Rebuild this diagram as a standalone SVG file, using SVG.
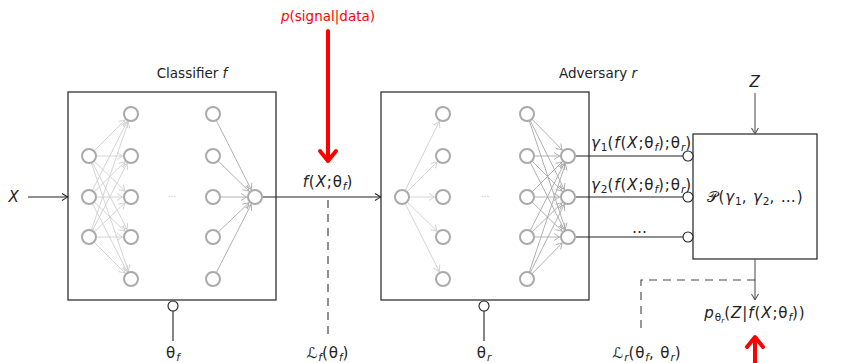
<svg xmlns="http://www.w3.org/2000/svg" width="864" height="363" viewBox="0 0 864 363">
<defs>
<style>
text{font-family:"DejaVu Sans","Liberation Sans",sans-serif;font-size:13.5px;fill:#222}
.m{font-size:15px;letter-spacing:0.9px}
.it{font-style:italic}
.sub{font-size:10.5px;letter-spacing:0}
.box{fill:#fff;stroke:#222;stroke-width:1.2}
.node{fill:#fff;stroke:#aaa;stroke-width:2}
.el{stroke:#cfcfcf;stroke-width:0.9;fill:none;marker-end:url(#mL)}
.em{stroke:#a8a8a8;stroke-width:0.9;fill:none;marker-end:url(#mM)}
.wire{stroke:#222;stroke-width:1.1;fill:none}
.gw{stroke:#555;stroke-width:1.1;fill:none}
.pin{fill:#fff;stroke:#222;stroke-width:1.1}
.dash{stroke:#333;stroke-width:1.1;stroke-dasharray:8,6;fill:none}
.red{stroke:#f00;stroke-width:4;fill:none;stroke-linecap:round;stroke-linejoin:round}
</style>
<marker id="mL" viewBox="-16 -5 16 10" refX="0" refY="0" markerWidth="16" markerHeight="10" markerUnits="userSpaceOnUse" orient="auto">
<path d="M-14,-3.5 Q-10,-1 -8.5,0 Q-10,1 -14,3.5" fill="none" stroke="#cfcfcf" stroke-width="0.9"/>
</marker>
<marker id="mM" viewBox="-16 -5 16 10" refX="0" refY="0" markerWidth="16" markerHeight="10" markerUnits="userSpaceOnUse" orient="auto">
<path d="M-14,-3.5 Q-10,-1 -8.5,0 Q-10,1 -14,3.5" fill="none" stroke="#a8a8a8" stroke-width="0.9"/>
</marker>
<marker id="mK" viewBox="-8 -5 8 10" refX="0" refY="0" markerWidth="8" markerHeight="10" markerUnits="userSpaceOnUse" orient="auto">
<path d="M-6,-3.5 Q-2,-1 0,0 Q-2,1 -6,3.5" fill="none" stroke="#222" stroke-width="1.1"/>
</marker>
<marker id="mG" viewBox="-8 -5 8 10" refX="0" refY="0" markerWidth="8" markerHeight="10" markerUnits="userSpaceOnUse" orient="auto">
<path d="M-6,-3.5 Q-2,-1 0,0 Q-2,1 -6,3.5" fill="none" stroke="#555" stroke-width="1.1"/>
</marker>
</defs>

<!-- Classifier box -->
<g id="classifier">
<rect class="box" x="68" y="92" width="208" height="208"/>
<text x="192" y="78" text-anchor="middle">Classifier <tspan class="it">f</tspan></text>
<g id="classifier-edges">
<line class="el" x1="89" y1="156" x2="131" y2="114"/><line class="el" x1="89" y1="156" x2="131" y2="156"/><line class="el" x1="89" y1="156" x2="131" y2="197"/><line class="el" x1="89" y1="156" x2="131" y2="237"/><line class="el" x1="89" y1="156" x2="131" y2="279"/>
<line class="el" x1="89" y1="197" x2="131" y2="114"/><line class="el" x1="89" y1="197" x2="131" y2="156"/><line class="el" x1="89" y1="197" x2="131" y2="197"/><line class="el" x1="89" y1="197" x2="131" y2="237"/><line class="el" x1="89" y1="197" x2="131" y2="279"/>
<line class="el" x1="89" y1="237" x2="131" y2="114"/><line class="el" x1="89" y1="237" x2="131" y2="156"/><line class="el" x1="89" y1="237" x2="131" y2="197"/><line class="el" x1="89" y1="237" x2="131" y2="237"/><line class="el" x1="89" y1="237" x2="131" y2="279"/>
<line class="em" x1="213" y1="114" x2="255" y2="197"/><line class="em" x1="213" y1="156" x2="255" y2="197"/><line class="em" x1="213" y1="197" x2="255" y2="197"/><line class="em" x1="213" y1="237" x2="255" y2="197"/><line class="em" x1="213" y1="279" x2="255" y2="197"/>
</g>
<g id="classifier-nodes">
<circle class="node" cx="89" cy="156" r="7"/><circle class="node" cx="89" cy="197" r="7"/><circle class="node" cx="89" cy="237" r="7"/>
<circle class="node" cx="131" cy="114" r="7"/><circle class="node" cx="131" cy="156" r="7"/><circle class="node" cx="131" cy="197" r="7"/><circle class="node" cx="131" cy="237" r="7"/><circle class="node" cx="131" cy="279" r="7"/>
<circle class="node" cx="213" cy="114" r="7"/><circle class="node" cx="213" cy="156" r="7"/><circle class="node" cx="213" cy="197" r="7"/><circle class="node" cx="213" cy="237" r="7"/><circle class="node" cx="213" cy="279" r="7"/>
<circle class="node" cx="255" cy="197" r="7"/>
<text x="172" y="200" text-anchor="middle" style="font-size:9px;fill:#bbb">···</text>
</g>
</g>

<!-- Adversary box -->
<g id="adversary">
<rect class="box" x="381" y="92" width="208" height="208"/>
<text x="598" y="78" text-anchor="middle">Adversary <tspan class="it">r</tspan></text>
<g id="adversary-edges">
<line class="el" x1="402" y1="197" x2="443" y2="114"/><line class="el" x1="402" y1="197" x2="443" y2="156"/><line class="el" x1="402" y1="197" x2="443" y2="197"/><line class="el" x1="402" y1="197" x2="443" y2="237"/><line class="el" x1="402" y1="197" x2="443" y2="279"/>
<line class="em" x1="527" y1="114" x2="568" y2="156"/><line class="em" x1="527" y1="114" x2="568" y2="197"/><line class="em" x1="527" y1="114" x2="568" y2="237"/>
<line class="em" x1="527" y1="156" x2="568" y2="156"/><line class="em" x1="527" y1="156" x2="568" y2="197"/><line class="em" x1="527" y1="156" x2="568" y2="237"/>
<line class="em" x1="527" y1="197" x2="568" y2="156"/><line class="em" x1="527" y1="197" x2="568" y2="197"/><line class="em" x1="527" y1="197" x2="568" y2="237"/>
<line class="em" x1="527" y1="237" x2="568" y2="156"/><line class="em" x1="527" y1="237" x2="568" y2="197"/><line class="em" x1="527" y1="237" x2="568" y2="237"/>
<line class="em" x1="527" y1="279" x2="568" y2="156"/><line class="em" x1="527" y1="279" x2="568" y2="197"/><line class="em" x1="527" y1="279" x2="568" y2="237"/>
</g>
<g id="adversary-nodes">
<circle class="node" cx="402" cy="197" r="7"/>
<circle class="node" cx="443" cy="114" r="7"/><circle class="node" cx="443" cy="156" r="7"/><circle class="node" cx="443" cy="197" r="7"/><circle class="node" cx="443" cy="237" r="7"/><circle class="node" cx="443" cy="279" r="7"/>
<circle class="node" cx="527" cy="114" r="7"/><circle class="node" cx="527" cy="156" r="7"/><circle class="node" cx="527" cy="197" r="7"/><circle class="node" cx="527" cy="237" r="7"/><circle class="node" cx="527" cy="279" r="7"/>
<circle class="node" cx="568" cy="156" r="7"/><circle class="node" cx="568" cy="197" r="7"/><circle class="node" cx="568" cy="237" r="7"/>
<text x="485" y="200" text-anchor="middle" style="font-size:9px;fill:#bbb">···</text>
</g>
</g>

<!-- Posterior box -->
<g id="posterior">
<rect class="box" x="693" y="134" width="124" height="125"/>
<text class="m" x="755" y="202" text-anchor="middle">𝒫(<tspan class="it">γ</tspan><tspan class="sub" dy="3">1</tspan><tspan dy="-3">, </tspan><tspan class="it">γ</tspan><tspan class="sub" dy="3">2</tspan><tspan dy="-3">, …)</tspan></text>
</g>

<g id="connectors">
<line class="wire" x1="28" y1="197" x2="68" y2="197" marker-end="url(#mK)"/>
<line class="wire" x1="263" y1="197" x2="381" y2="197" marker-end="url(#mK)"/>
<line class="dash" x1="328" y1="200" x2="328" y2="334"/>
<line class="wire" x1="576" y1="156" x2="683" y2="156"/>
<line class="wire" x1="576" y1="197" x2="683" y2="197"/>
<line class="wire" x1="576" y1="237" x2="683" y2="237"/>
<circle class="pin" cx="688" cy="156" r="5"/>
<circle class="pin" cx="688" cy="197" r="5"/>
<circle class="pin" cx="688" cy="237" r="5"/>
<line class="gw" x1="755" y1="93" x2="755" y2="134" marker-end="url(#mG)"/>
<line class="gw" x1="755" y1="259" x2="755" y2="300" marker-end="url(#mG)"/>
<path class="dash" d="M755,280 H641 V334" style="stroke:#444"/>
<circle class="pin" cx="173" cy="306" r="5"/>
<line class="wire" x1="173" y1="311" x2="173" y2="341"/>
<circle class="pin" cx="484" cy="306" r="5"/>
<line class="wire" x1="484" y1="311" x2="484" y2="341"/>
<line class="red" x1="328" y1="31" x2="328" y2="160"/>
<polyline class="red" points="320,151 328,161 336,151"/>
<line class="red" x1="755" y1="363" x2="755" y2="338"/>
<polyline class="red" points="747,347 755,337 763,347"/>
</g>

<g id="labels">
<text x="328" y="21" text-anchor="middle" style="fill:#f00"><tspan class="it" style="fill:#f00">p</tspan>(signal|data)</text>
<text class="m" x="328" y="187" text-anchor="middle"><tspan class="it">f</tspan>(<tspan class="it">X</tspan>;θ<tspan class="sub it" dy="3">f</tspan><tspan dy="-3">)</tspan></text>
<text x="14" y="202" text-anchor="middle" class="it m">X</text>
<text x="755" y="87" text-anchor="middle" class="it m">Z</text>
<text class="m" x="692" y="148" text-anchor="end"><tspan class="it">γ</tspan><tspan class="sub" dy="3">1</tspan><tspan dy="-3">(</tspan><tspan class="it">f</tspan>(<tspan class="it">X</tspan>;θ<tspan class="sub it" dy="3">f</tspan><tspan dy="-3">);θ</tspan><tspan class="sub it" dy="3">r</tspan><tspan dy="-3">)</tspan></text>
<text class="m" x="692" y="190" text-anchor="end"><tspan class="it">γ</tspan><tspan class="sub" dy="3">2</tspan><tspan dy="-3">(</tspan><tspan class="it">f</tspan>(<tspan class="it">X</tspan>;θ<tspan class="sub it" dy="3">f</tspan><tspan dy="-3">);θ</tspan><tspan class="sub it" dy="3">r</tspan><tspan dy="-3">)</tspan></text>
<text class="m" x="640" y="233" text-anchor="middle">…</text>
<text class="m" x="755" y="318" text-anchor="middle"><tspan class="it">p</tspan><tspan class="sub" dy="3">θ</tspan><tspan class="sub it" style="font-size:7.5px" dy="2">r</tspan><tspan dy="-5">(</tspan><tspan class="it">Z</tspan>|<tspan class="it">f</tspan>(<tspan class="it">X</tspan>;θ<tspan class="sub it" dy="3">f</tspan><tspan dy="-3">))</tspan></text>
<text class="m" x="173" y="358" text-anchor="middle">θ<tspan class="sub it" dy="3">f</tspan></text>
<text class="m" x="328" y="358" text-anchor="middle">ℒ<tspan class="sub it" dy="3">f</tspan><tspan dy="-3">(θ</tspan><tspan class="sub it" dy="3">f</tspan><tspan dy="-3">)</tspan></text>
<text class="m" x="484" y="358" text-anchor="middle">θ<tspan class="sub it" dy="3">r</tspan></text>
<text class="m" x="647" y="358" text-anchor="middle">ℒ<tspan class="sub it" dy="3">r</tspan><tspan dy="-3">(θ</tspan><tspan class="sub it" dy="3">f</tspan><tspan dy="-3">, θ</tspan><tspan class="sub it" dy="3">r</tspan><tspan dy="-3">)</tspan></text>
</g>
</svg>
